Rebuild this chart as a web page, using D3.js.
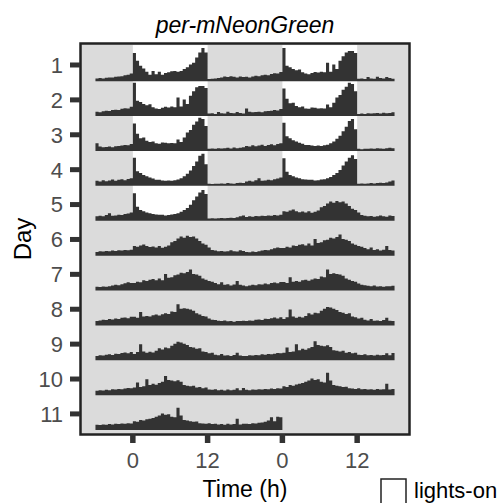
<!doctype html>
<html>
<head>
<meta charset="utf-8">
<script src="https://d3js.org/d3.v7.min.js"></script>
<style>
body { margin: 0; background: #fff; }
svg text { font-family: "Liberation Sans", Arial, sans-serif; }
</style>
</head>
<body>
<svg width="500" height="503"></svg>
<script>
// activity in 0.5 h bins (relative units, 0-10)
var preDay1 = [0.5,0.6,0.5,0.7,0.8,0.8,1.0,1.1,1.2,1.5,1.6,2.0];
var day1 = [8.4,6.0,4.4,3.6,2.6,1.6,2.8,1.8,2.6,1.6,2.2,2.4,2.7,2.8,2.6,2.8,3.4,4.0,4.8,5.4,7.0,8.6,10,8.6,
            0.3,0.4,0.5,0.6,0.8,1.1,0.9,1.2,1.0,0.8,1.1,0.9,1.0,0.8,1.1,1.3,1.2,1.5,1.6,1.5,1.9,2.1,2.0,2.5];
var day2 = [10,4.4,4.0,3.4,3.0,3.3,2.4,2.0,1.8,2.2,2.5,2.3,2.6,2.4,5.4,2.6,4.8,3.4,6.0,7.4,8.6,9.0,9.0,8.4,
            0.4,0.5,0.3,0.9,0.5,0.4,1.0,0.6,0.5,0.9,0.6,0.4,2.0,1.0,0.8,0.9,1.0,0.8,1.1,1.2,1.3,1.5,1.4,1.8];
var day3 = [8.2,5.0,3.6,3.8,2.8,2.4,2.6,2.0,1.9,2.3,2.2,2.0,2.1,2.0,3.2,2.4,3.8,5.4,6.2,7.8,8.8,10,9.6,7.4,
            0.3,0.4,0.3,0.5,0.4,0.5,0.6,0.4,0.7,0.5,0.6,0.8,1.2,1.0,1.4,1.1,1.3,1.6,1.2,1.5,1.7,1.4,1.8,2.0];
var day4 = [8.4,4.2,3.6,3.0,2.6,2.2,1.9,1.5,1.5,1.3,1.2,1.3,1.2,1.4,1.6,2.0,2.6,3.4,4.4,5.8,7.2,9.0,9.6,6.4,
            0.3,0.2,0.3,0.3,0.4,0.3,0.5,0.4,0.3,0.5,0.6,0.5,1.0,1.2,1.0,1.4,2.0,1.2,1.3,1.5,1.4,1.7,1.9,2.2];
var day5 = [8.2,4.0,3.0,2.6,2.2,2.0,1.7,1.6,1.5,1.5,1.3,1.4,1.6,1.7,2.0,2.4,3.0,3.6,4.6,6.0,7.2,8.4,9.2,8.0,
            0.3,0.4,0.3,0.4,0.5,0.4,0.5,0.6,0.5,0.7,1.0,1.3,0.8,1.0,0.9,1.1,1.0,1.2,1.1,1.3,1.2,1.4,1.3,1.5];
var day6 = [2.6,2.4,2.8,3.1,2.6,2.3,2.5,2.2,2.6,2.1,2.4,2.8,3.8,4.2,5.0,5.6,5.2,5.8,5.4,5.6,5.0,4.2,3.4,3.0,
            2.2,1.4,1.2,1.0,1.1,0.9,1.0,1.3,1.0,0.9,1.3,1.1,0.8,0.7,0.9,0.8,1.0,1.2,1.4,1.3,1.6,1.9,2.2,2.0];
var day7 = [2.0,2.4,2.2,2.8,2.6,3.0,3.2,2.8,3.4,2.8,4.8,3.6,3.8,4.4,4.6,5.2,5.0,5.4,6.2,4.8,4.6,4.2,3.4,3.0,
            2.6,2.4,2.0,1.6,2.2,1.4,1.6,1.2,1.5,2.6,1.4,1.2,1.0,1.2,1.4,1.3,1.6,1.5,1.8,1.6,2.0,2.1,1.9,2.3];
var day8 = [2.3,2.0,3.8,2.4,2.6,2.4,2.8,3.0,2.7,3.1,3.4,3.2,4.0,3.8,6.2,4.8,5.0,4.8,4.6,4.2,3.4,3.0,2.6,2.4,
            1.8,1.4,1.3,1.1,1.0,1.2,0.9,1.0,0.8,1.0,1.0,1.1,1.0,1.2,1.1,1.4,1.5,1.3,1.7,1.6,1.9,2.1,1.8,2.2];
var day9 = [1.6,2.2,4.6,2.4,2.0,2.3,2.1,2.6,3.4,3.0,3.6,3.4,4.2,4.8,5.4,5.2,4.8,4.4,3.8,3.6,3.2,3.4,2.4,2.2,
            1.8,2.0,1.4,1.2,1.6,1.1,1.2,1.0,1.3,2.0,1.1,1.0,1.0,1.2,1.1,1.3,1.2,1.5,1.4,1.6,1.5,1.7,1.9,1.8];
var day10 = [2.0,3.6,2.2,2.4,4.6,2.8,3.2,2.9,3.4,3.8,5.6,4.4,4.2,4.0,4.3,3.8,2.8,2.6,2.4,2.6,2.0,2.2,1.8,2.0,
             1.4,1.3,1.5,1.2,1.3,1.1,1.4,1.2,1.3,1.8,1.2,1.9,1.3,1.2,1.4,1.3,1.5,1.4,1.6,1.5,1.7,1.6,1.8,1.7];
var day11 = [2.4,2.2,2.8,2.6,3.0,3.2,3.4,3.8,4.2,4.8,4.4,4.6,3.8,3.6,6.6,4.2,2.8,2.6,2.4,2.2,2.3,1.8,1.7,1.6,
             1.8,1.5,1.6,1.4,1.5,1.3,1.6,1.4,1.5,3.2,1.4,1.6,1.6,1.5,1.8,1.7,1.9,2.0,2.2,2.6,3.6,2.4,3.8,3.6];

var days = [day1, day2, day3, day4, day5, day6, day7, day8, day9, day10, day11];
var lightsOnDays = [1, 2, 3, 4, 5];
var dayTicks = d3.range(1, 12);
var timeTicks = [0, 12, 24, 36];
var timeTickLabels = ["0", "12", "0", "12"];

var BIN = 0.5;
var series = preDay1.concat(d3.merge(days));   // series[0] is at -6 h of day 1

var svg = d3.select("svg");
var x = d3.scaleLinear().domain([-8.4, 44.4]).range([80.5, 409.5]);
var y = d3.scaleLinear().domain([0.384, 11.59]).range([43.5, 434.5]);
var hScale = 0.092;   // row units per activity unit
var BASE = 0.43;      // baseline offset below a day's tick

// panel background
svg.append("rect")
	.attr("x", x(-8.4)).attr("y", y(0.384))
	.attr("width", x(44.4) - x(-8.4)).attr("height", y(11.59) - y(0.384))
	.attr("fill", "#dbdbdb");

// lights-on blocks
var lights = [];
dayTicks.forEach(function(d) {
	if (lightsOnDays.indexOf(d) >= 0) lights.push({row: d, t0: 0, t1: 12});
	if (lightsOnDays.indexOf(d + 1) >= 0) lights.push({row: d, t0: 24, t1: 36});
});
svg.append("g").selectAll("rect").data(lights).join("rect")
	.attr("x", l => x(l.t0))
	.attr("width", l => x(l.t1) - x(l.t0))
	.attr("y", l => y(l.row + BASE - 1))
	.attr("height", l => y(l.row + BASE) - y(l.row + BASE - 1))
	.attr("fill", "#fff");

// activity rows, double plotted
var rows = dayTicks.map(function(d) {
	var start = (d - 1) * 48;
	var vals = series.slice(start, start + 96);
	var pts = vals.map((v, i) => ({t: -6 + i * BIN, v: v}));
	pts.push({t: -6 + vals.length * BIN, v: vals[vals.length - 1]});
	return {day: d, pts: pts};
});

svg.append("g").selectAll("path").data(rows).join("path")
	.attr("d", r => d3.area()
		.curve(d3.curveStepAfter)
		.x(p => x(p.t))
		.y0(y(r.day + BASE) + 1.2)
		.y1(p => y(r.day + BASE - p.v * hScale))(r.pts))
	.attr("fill", "#333");

// panel border
svg.append("rect")
	.attr("x", x(-8.4)).attr("y", y(0.384))
	.attr("width", x(44.4) - x(-8.4)).attr("height", y(11.59) - y(0.384))
	.attr("fill", "none").attr("stroke", "#222").attr("stroke-width", 2.5);

// y axis
var yAxis = svg.append("g");
yAxis.selectAll("line").data(dayTicks).join("line")
	.attr("x1", 70).attr("x2", 80)
	.attr("y1", d => y(d)).attr("y2", d => y(d))
	.attr("stroke", "#333").attr("stroke-width", 5);
yAxis.selectAll("text").data(dayTicks).join("text")
	.attr("x", 63).attr("y", d => y(d)).attr("dy", "0.36em")
	.attr("text-anchor", "end")
	.attr("font-size", 22).attr("fill", "#4d4d4d")
	.text(d => d);

// x axis
var xAxis = svg.append("g");
xAxis.selectAll("line").data(timeTicks).join("line")
	.attr("x1", t => x(t)).attr("x2", t => x(t))
	.attr("y1", 434).attr("y2", 443)
	.attr("stroke", "#333").attr("stroke-width", 5.5);
xAxis.selectAll("text").data(timeTicks).join("text")
	.attr("x", t => x(t)).attr("y", 468)
	.attr("text-anchor", "middle")
	.attr("font-size", 22).attr("fill", "#4d4d4d")
	.text((t, i) => timeTickLabels[i]);

// titles
svg.append("text")
	.attr("x", 245).attr("y", 33)
	.attr("text-anchor", "middle")
	.attr("font-size", 23).attr("font-style", "italic")
	.text("per-mNeonGreen");
svg.append("text")
	.attr("x", 245).attr("y", 497)
	.attr("text-anchor", "middle")
	.attr("font-size", 23)
	.text("Time (h)");
svg.append("text")
	.attr("transform", "translate(31,239) rotate(-90)")
	.attr("text-anchor", "middle")
	.attr("font-size", 24)
	.text("Day");

// legend
svg.append("rect")
	.attr("x", 381).attr("y", 479).attr("width", 25).attr("height", 26)
	.attr("fill", "#fff").attr("stroke", "#222").attr("stroke-width", 1.5);
svg.append("text")
	.attr("x", 414).attr("y", 498)
	.attr("font-size", 22)
	.text("lights-on");
</script>
</body>
</html>
